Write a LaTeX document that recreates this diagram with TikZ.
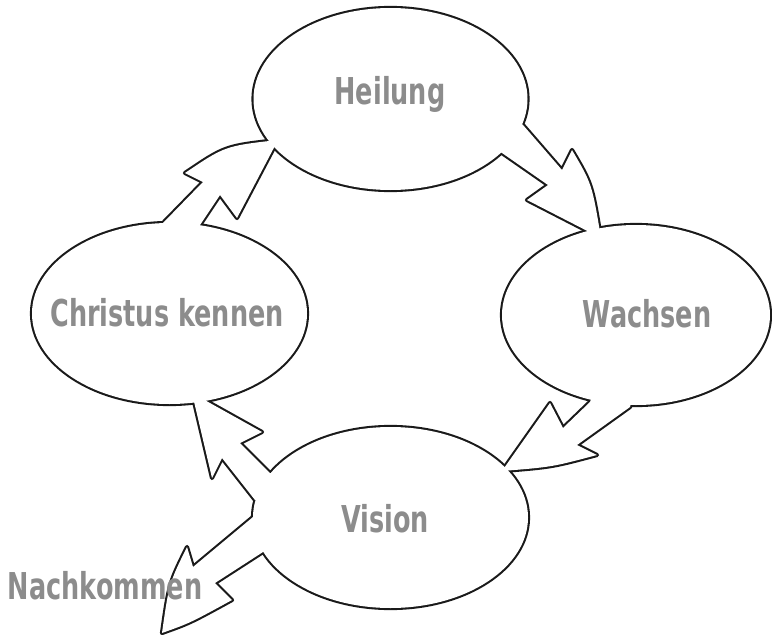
\documentclass[tikz,border=0pt]{standalone}
\usepackage{fontspec}
\usepackage{graphicx}
\newfontfamily\lblfont{DejaVu Sans}
\definecolor{rimcol}{RGB}{26,26,26}
\definecolor{lblcol}{RGB}{140,140,140}
\newcommand{\narrow}[1]{\scalebox{0.69}[1]{#1}}

\begin{document}
\begin{tikzpicture}[x=1pt,y=-1pt,
        rim/.style={draw=rimcol,line width=4.2pt,line join=round},
        blank/.style={fill=white},
        lbl/.style={text=lblcol,anchor=base,inner sep=0pt,
            font=\lblfont\bfseries\fontsize{37}{40}\selectfont}]
        \useasboundingbox (0,0) rectangle (772,637);

        \foreach \s in {rim,blank}{
            \path[\s] (390.5,99) ellipse [x radius=137,y radius=91];
            \path[\s] (636,315) ellipse [x radius=134,y radius=90];
            \path[\s] (169.5,313.5) ellipse [x radius=137.5,y radius=90.5];
            \path[\s] (390.5,517.5) ellipse [x radius=137.5,y radius=90.5];

            \path[\s] (158,245) -- (163,223) -- (203,182) -- (185,173)
                .. controls (225,146) .. (278,140) -- (237,218) -- (220,195)
                -- (200,225) -- (198,245) -- cycle;
            \path[\s] (505,110) -- (523,125) -- (562,170) -- (572,150)
                .. controls (592,184) .. (601,238) -- (527,200) -- (548,185)
                -- (502,153) -- (485,140) -- cycle;
            \path[\s] (635,388) -- (630,407) -- (577,445) -- (597,455)
                .. controls (552,467) .. (502,471) -- (550,403) -- (563,428)
                -- (590,402) -- (596,386) -- cycle;
            \path[\s] (290,478) -- (270,473) -- (240,443) -- (262,432)
                -- (192,393) -- (212,478) -- (222,458) -- (255,500)
                -- (280,505) -- cycle;
            \path[\s] (275,515) -- (253,517) -- (193,567) -- (187,547)
                .. controls (169,583.5) .. (162,633)
                .. controls (190,623) .. (232,600) -- (215,583) -- (263,552)
                -- (280,548) -- cycle;
        }

        \node[lbl] (heil) at (390,104) {\narrow{Heilung}};
        \node[lbl] (wachs) at (647,327) {\narrow{Wachsen}};
        \node[lbl] (christ) at (167,326) {\narrow{Christus kennen}};
        \node[lbl] (vision) at (385,532) {\narrow{Vision}};
        \node[lbl] (nach) at (105,599) {\narrow{Nachkommen}};
    \end{tikzpicture}
\end{document}
